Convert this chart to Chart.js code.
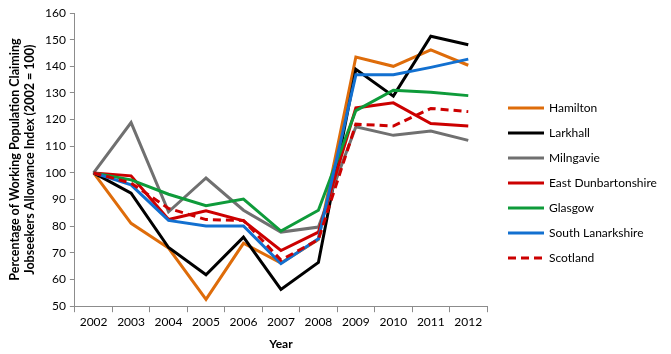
<!DOCTYPE html>
<html>
<head>
<meta charset="utf-8">
<script src="https://cdn.jsdelivr.net/npm/chart.js@4/dist/chart.umd.min.js"></script>
<style>
  html, body { margin: 0; padding: 0; background: #fff; }
  #wrap { width: 671px; height: 354px; }
</style>
</head>
<body>
<div id="wrap"><canvas id="grafico"></canvas></div>
<script>
// años y series (indice 2002 = 100)
var years = ['2002','2003','2004','2005','2006','2007','2008','2009','2010','2011','2012'];
var hamilton    = [100, 81.1, 71.8, 52.6, 73.6, 66.2, 75.0, 143.5, 140.0, 146.2, 140.4];
var larkhall    = [100, 92.4, 72.0, 61.8, 75.9, 56.3, 66.4, 138.9, 128.8, 151.3, 148.1];
var milngavie   = [100, 118.9, 85.4, 98.1, 86.0, 77.8, 79.7, 117.3, 114.1, 115.7, 112.2];
var eastDunb    = [100, 98.9, 82.5, 85.8, 82.0, 70.9, 77.8, 124.4, 126.3, 118.5, 117.6];
var glasgow     = [100, 97.4, 92.0, 87.7, 90.2, 78.2, 86.0, 123.4, 131.0, 130.3, 129.0];
var southLanark = [100, 95.5, 82.2, 80.1, 80.1, 66.0, 75.3, 136.8, 136.8, 139.6, 142.7];
var scotland    = [100, 96.2, 86.7, 82.5, 82.2, 67.3, 75.0, 118.3, 117.6, 124.2, 123.0];

var seriesNames = ['Hamilton','Larkhall','Milngavie','East Dunbartonshire','Glasgow','South Lanarkshire','Scotland'];
var seriesData  = [hamilton, larkhall, milngavie, eastDunb, glasgow, southLanark, scotland];
var colores     = ['#DE6C0A','#000000','#707070','#CC0000','#0E9B3A','#1270D0','#CC0000'];
var dashes      = [[],[],[],[],[],[],[8,5]];

var fuente = "Lato, 'Open Sans', sans-serif";

var datasets = seriesNames.map(function(n, i){
  return {
    label: n,
    data: seriesData[i],
    borderColor: colores[i],
    backgroundColor: colores[i],
    borderWidth: 3,
    borderDash: dashes[i],
    pointRadius: 0,
    tension: 0,
    fill: false,
    order: seriesNames.length - i
  };
});

// leyenda dibujada a mano (lineas, con la discontinua de Scotland)
var leyenda = {
  id: 'leyenda',
  afterDraw: function(chart){
    var ctx = chart.ctx;
    ctx.save();
    ctx.font = "12px " + fuente;
    ctx.textBaseline = 'middle';
    ctx.textAlign = 'left';
    seriesNames.forEach(function(n, i){
      var y = 108 + i * 25;
      ctx.strokeStyle = colores[i];
      ctx.lineWidth = 3;
      ctx.setLineDash(dashes[i]);
      ctx.beginPath();
      ctx.moveTo(508, y);
      ctx.lineTo(544, y);
      ctx.stroke();
      ctx.setLineDash([]);
      ctx.fillStyle = '#000';
      ctx.fillText(n, 549, y);
    });
    ctx.restore();
  }
};

var config = {
  type: 'line',
  data: { labels: years, datasets: datasets },
  plugins: [leyenda],
  options: {
    responsive: true,
    maintainAspectRatio: false,
    animation: false,
    layout: { padding: { top: 13, right: 184, left: 7, bottom: 3 } },
    plugins: { legend: { display: false }, tooltip: { enabled: false } },
    scales: {
      x: {
        offset: true,
        grid: { offset: true, drawOnChartArea: false, tickLength: 6, color: '#8c8c8c' },
        border: { color: '#8c8c8c' },
        ticks: { color: '#000', font: { family: fuente, size: 12 }, maxRotation: 0, padding: 3 },
        title: { display: true, text: 'Year', color: '#000', font: { family: fuente, size: 12, weight: 'bold' }, padding: { top: 4, bottom: 0 } }
      },
      y: {
        min: 50,
        max: 160,
        ticks: { stepSize: 10, color: '#000', font: { family: fuente, size: 12 }, padding: 4 },
        grid: { drawOnChartArea: false, tickLength: 5, color: '#8c8c8c' },
        border: { color: '#8c8c8c' },
        title: {
          display: true,
          text: ['Percentage of Working Population Claiming', 'Jobseekers Allowance Index (2002 = 100)'],
          color: '#000',
          font: { family: fuente, size: 12.5, weight: 'bold', lineHeight: 1.2 },
          padding: { top: 0, bottom: 4 }
        }
      }
    }
  }
};

if(!!document.getElementById("grafico").getContext("2d")){
  var chart = new Chart(document.getElementById("grafico").getContext("2d"), config);
}
</script>
</body>
</html>
